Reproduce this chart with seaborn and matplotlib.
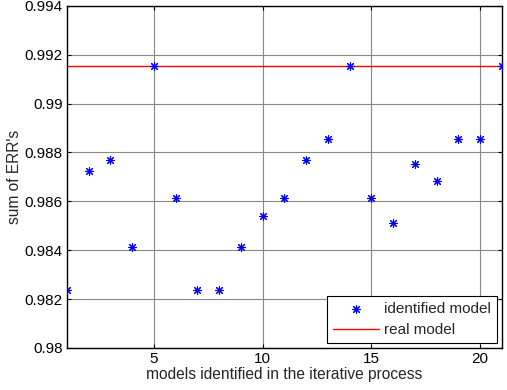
import matplotlib
matplotlib.use("Agg")
import matplotlib.pyplot as plt
import seaborn as sns
import numpy as np
import pandas as pd

models = list(range(1, 22))
err_sum = [0.98235, 0.98725, 0.98770, 0.98412, 0.99152, 0.98614, 0.98235,
           0.98235, 0.98412, 0.98540, 0.98614, 0.98770, 0.98853, 0.99152,
           0.98614, 0.98511, 0.98754, 0.98684, 0.98853, 0.98853, 0.99152]
real_value = 0.99155
x_ticks = [5, 10, 15, 20]
y_ticks = [0.98, 0.982, 0.984, 0.986, 0.988, 0.99, 0.992, 0.994]
y_tick_labels = ["0.98", "0.982", "0.984", "0.986", "0.988", "0.99", "0.992", "0.994"]

sns.set_style("white")
plt.rcParams['font.family'] = ['Liberation Sans', 'DejaVu Sans']

fig = plt.figure(figsize=(5.07, 3.9), dpi=100)
ax = fig.add_axes([0.132, 0.108, 0.858, 0.877])

df = pd.DataFrame({"model": models, "err": err_sum})
sns.scatterplot(data=df, x="model", y="err", ax=ax, marker=(8, 2, 0), s=32,
                color="blue", linewidth=0.8, edgecolor="blue",
                label="identified model", zorder=3)
ref = pd.DataFrame({"model": [1, 21], "err": [real_value, real_value]})
sns.lineplot(data=ref, x="model", y="err", ax=ax, color="red", linewidth=1.0,
             label="real model", zorder=2)

ax.set_xlim(1, 21)
ax.set_ylim(0.98, 0.994)
ax.set_xticks(x_ticks)
ax.set_xticklabels([str(t) for t in x_ticks])
ax.set_yticks(y_ticks)
ax.set_yticklabels(y_tick_labels)
ax.tick_params(direction="in", labelsize=11, length=3, colors="black",
               top=True, right=True, left=True, bottom=True, pad=3)
ax.grid(True, color="#888888", linewidth=0.8, linestyle="-")
for s in ax.spines.values():
    s.set_color("black")
    s.set_linewidth(1.0)
ax.set_xlabel("models identified in the iterative process", fontsize=11.2, labelpad=1)
ax.set_ylabel("sum of ERR's", fontsize=11.2, labelpad=2)

leg = ax.legend(loc="lower right", fontsize=11, frameon=True, fancybox=False,
                edgecolor="black", framealpha=1, borderaxespad=0.3,
                handlelength=3.0, handletextpad=0.35, borderpad=0.4,
                labelspacing=0.45)
leg.get_frame().set_linewidth(0.8)

fig.savefig("out.png", dpi=100)
